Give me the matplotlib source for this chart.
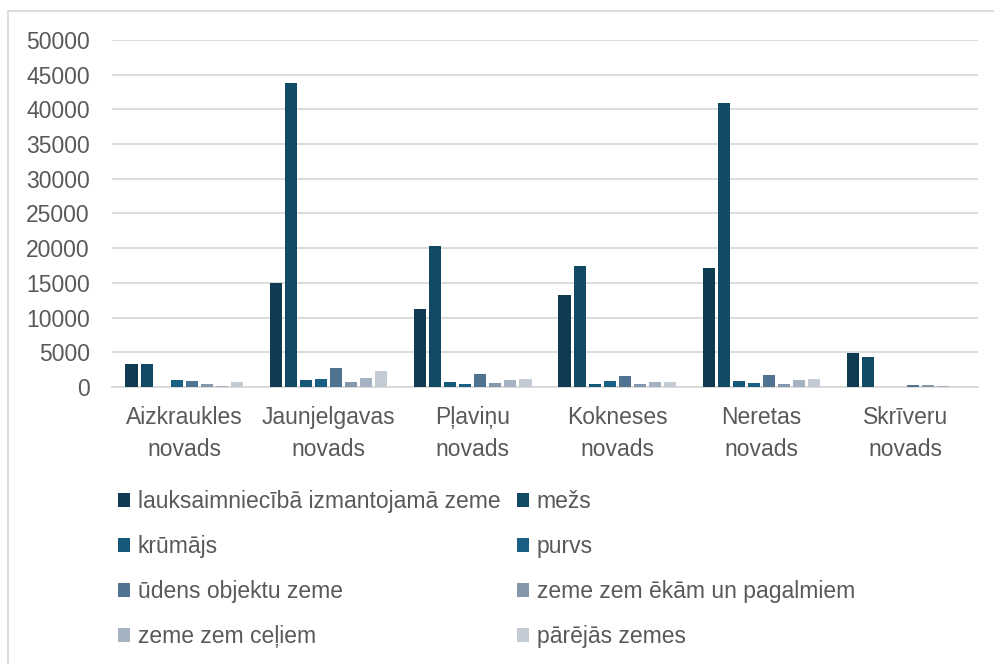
import matplotlib.pyplot as plt
import matplotlib
import numpy as np
from matplotlib.patches import Rectangle

matplotlib.rc("font", family=['Liberation Sans', 'DejaVu Sans'])

novadi = ['Aizkraukles\nnovads', 'Jaunjelgavas\nnovads', 'Pļaviņu\nnovads',
          'Kokneses\nnovads', 'Neretas\nnovads', 'Skrīveru\nnovads']
sērijas = ['lauksaimniecībā izmantojamā zeme', 'mežs', 'krūmājs', 'purvs',
           'ūdens objektu zeme', 'zeme zem ēkām un pagalmiem',
           'zeme zem ceļiem', 'pārējās zemes']
lauks = [3380, 15000, 11200, 13200, 17200, 4860]
mezs = [3330, 43800, 20300, 17500, 40900, 4340]
krumajs = [0, 1030, 650, 500, 930, 0]
purvs = [950, 1180, 500, 930, 600, 0]
udens = [890, 2700, 1840, 1550, 1700, 360]
ekas = [400, 650, 550, 500, 400, 300]
celi = [215, 1260, 980, 690, 1030, 200]
parejas = [790, 2270, 1220, 790, 1220, 60]
dati = [lauks, mezs, krumajs, purvs, udens, ekas, celi, parejas]
krasas = ['#0e3a52', '#124a66', '#165878', '#1a5f84',
          '#4f7391', '#8497ab', '#a5b2c1', '#c3cbd5']

W, H = 994, 664
fig = plt.figure(figsize=[W/100, H/100], dpi=100)
ax = fig.add_axes([112/W, 1-387/H, (978-112)/W, (387-40)/H])

x = np.arange(len(novadi))
solis = 0.104
for i, (v, c, n) in enumerate(zip(dati, krasas, sērijas)):
    ax.bar(x + (i-3.5)*solis, v, width=0.085, color=c, label=n, zorder=3)

ax.set_xlim(-0.5, 5.5)
ax.set_ylim(0, 50000)
ax.set_yticks(range(0, 50001, 5000))
ax.grid(axis='y', color='#d9d9d9', lw=1.3, zorder=0)
for s in ['top', 'right', 'left']:
    ax.spines[s].set_visible(False)
ax.spines['bottom'].set_color('#d9d9d9')
ax.spines['bottom'].set_linewidth(1.3)
ax.set_xticks(x)
ax.set_xticklabels(novadi, linespacing=1.48)
a = 16.5  # fonta izmērs
ax.tick_params(axis='both', length=0, labelsize=a, labelcolor='#595959')
ax.tick_params(axis='y', pad=16)
ax.tick_params(axis='x', pad=14)

h, l = ax.get_legend_handles_labels()
seciba = [0, 2, 4, 6, 1, 3, 5, 7]
fig.legend([h[k] for k in seciba], [l[k] for k in seciba], ncol=2,
           loc='upper left', bbox_to_anchor=(118/W, 1-490/H), frameon=False,
           fontsize=a, labelcolor='#595959', handlelength=0.52, handleheight=0.52,
           handletextpad=0.35, labelspacing=0.96, columnspacing=0.7,
           borderaxespad=0, borderpad=0)

fig.patches.append(Rectangle((8/W, -0.1), 1.1, 1.1 - 11/H,
                             transform=fig.transFigure, fill=False,
                             edgecolor='#d9d9d9', lw=1.3))
fig.savefig('out.png', dpi=100)
